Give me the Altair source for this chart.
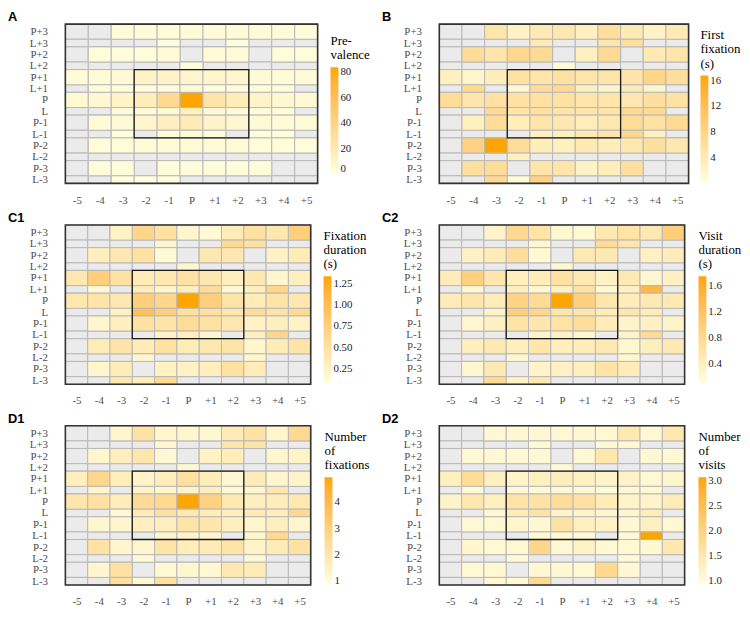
import altair as alt
import pandas as pd

cols = ["-5", "-4", "-3", "-2", "-1", "P", "+1", "+2", "+3", "+4", "+5"]
rows = ["P+3", "L+3", "P+2", "L+2", "P+1", "L+1", "P", "L",
        "P-1", "L-1", "P-2", "L-2", "P-3", "L-3"]
N = None

# A: prevalence
prevalence = [
    [N, N, 4, 4, 4, 4, 4, 4, 4, 4, 3],
    [N, N, N, N, 2, N, N, 2, N, N, N],
    [N, 3, 3, 3, 4, N, 4, 4, N, 3, 3],
    [N, N, N, N, N, 2, N, N, N, N, N],
    [4, 4, 5, 12, 11, 9, 9, 8, 5, 4, 4],
    [N, 3, 3, 3, 3, 4, 3, 3, 3, 3, N],
    [6, 7, 11, 17, 35, 84, 25, 18, 10, 7, 6],
    [N, N, 3, 4, 6, 14, 5, 4, 3, 3, N],
    [N, 4, 5, 8, 15, 19, 10, 7, 5, 4, 4],
    [N, N, 2, N, 3, 4, 3, N, 2, 2, N],
    [N, 3, 3, 4, 4, 4, 4, 4, 3, 3, 3],
    [N, N, N, N, N, N, N, N, N, N, N],
    [N, 3, 3, N, 3, 3, 3, 3, 3, N, N],
    [N, N, 2, 2, 2, N, N, N, N, N, N],
]

# B: first fixation (s)
first_fixation = [
    [N, N, 5, 2.5, 4, 4.5, 3, 6, 4, 2.5, 4],
    [N, N, N, N, 4, N, N, 5, 6, N, N],
    [N, 6.5, 5, 7.5, 7, N, 3, 7, N, 4, 5],
    [N, N, N, N, N, 1, N, N, N, N, N],
    [3, 2, 3.5, 5.5, 5, 5.5, 5, 5, 5, 8, 6],
    [N, 7, N, 1.5, 6.5, 7, 3, 2, 4, 2, N],
    [6.5, 5, 5.5, 5.5, 5.5, 5.5, 5, 5, 4.5, 6, 5.5],
    [N, N, 7, 5, 5.5, 5, 5, 5, 7, 7, N],
    [N, 3, 6.5, 3.5, 5, 4.5, 3.5, 4.5, 6.5, 5.5, 7],
    [N, N, N, N, 3, 3, 4, 5, 7.5, 3, N],
    [N, 8.5, 16.8, 6.5, 3.5, 3, 4, 3.5, 4.5, 6, 4.5],
    [N, N, N, 3, N, N, N, N, N, N, N],
    [N, 6, 6.5, N, 5, 5, 2.5, 3.5, 6, N, N],
    [N, N, 7, 1, 8.5, N, N, N, N, N, N],
]

# C1: fixation duration (s)
fixation_duration = [
    [N, N, 0.25, 0.65, 0.5, 0.2, 0.15, 0.35, 0.5, 0.4, 0.75],
    [N, N, N, N, 0.2, N, N, 0.6, 0.5, N, N],
    [N, 0.3, 0.4, 0.5, 0.15, N, 0.4, 0.4, N, 0.25, 0.35],
    [N, N, N, N, N, 0.2, N, N, N, N, N],
    [0.4, 0.75, 0.5, 0.35, 0.4, 0.5, 0.4, 0.3, 0.4, 0.2, 0.3],
    [N, 0.15, N, 0.35, 0.2, 0.3, 0.55, 0.15, 0.3, 0.65, N],
    [0.4, 0.45, 0.4, 0.75, 0.65, 1.34, 0.75, 0.45, 0.35, 0.45, 0.4],
    [N, N, 0.25, 0.95, 0.75, 0.5, 0.5, 0.4, 0.55, 0.45, 0.6],
    [N, 0.2, 0.3, 0.5, 0.45, 0.55, 0.5, 0.4, 0.25, 0.3, 0.25],
    [N, N, N, N, 0.25, 0.3, 0.2, N, 0.3, 0.65, N],
    [N, 0.35, 0.45, 0.35, 0.5, 0.35, 0.4, 0.45, 0.2, 0.35, 0.45],
    [N, N, N, 0.2, N, N, N, N, 0.2, N, N],
    [N, 0.2, 0.35, N, 0.25, 0.25, 0.3, 0.5, 0.35, N, N],
    [N, N, 0.4, 0.35, 0.6, N, N, N, N, N, N],
]

# C2: visit duration (s)
visit_duration = [
    [N, N, 0.3, 0.8, 0.6, 0.25, 0.2, 0.5, 0.6, 0.5, 1.0],
    [N, N, N, N, 0.25, N, N, 0.75, 0.55, N, N],
    [N, 0.35, 0.45, 0.7, 0.2, N, 0.5, 0.5, N, 0.35, 0.45],
    [N, N, N, N, N, 0.25, N, N, N, N, N],
    [0.45, 0.95, 0.55, 0.4, 0.45, 0.65, 0.5, 0.35, 0.5, 0.25, 0.35],
    [N, 0.2, N, 0.4, 0.25, 0.35, 0.65, 0.2, 0.35, 1.4, N],
    [0.45, 0.55, 0.45, 0.9, 0.75, 1.75, 0.95, 0.55, 0.45, 0.5, 0.5],
    [N, N, 0.3, 1.0, 0.85, 0.55, 0.55, 0.45, 0.55, 0.45, N],
    [N, 0.25, 0.35, 0.6, 0.55, 0.6, 0.7, 0.45, 0.3, 0.35, 0.3],
    [N, N, N, N, 0.3, 0.35, 0.25, N, 0.3, 0.75, N],
    [N, 0.4, 0.5, 0.4, 0.55, 0.4, 0.45, 0.5, 0.25, 0.4, 0.5],
    [N, N, N, 0.25, N, N, N, N, 0.25, N, N],
    [N, 0.25, 0.5, N, 0.3, 0.35, 0.4, 0.6, 0.45, N, N],
    [N, N, 0.75, 0.35, 0.5, N, N, N, N, N, N],
]

# D1: number of fixations
num_fixations = [
    [N, N, 1.3, 2.2, 1.3, 1.3, 1.2, 1.8, 2.2, 1.3, 2.6],
    [N, N, N, N, 1.2, N, N, 2.0, 2.1, N, N],
    [N, 1.3, 1.6, 2.0, 1.2, N, 1.5, 1.7, N, 1.3, 1.4],
    [N, N, N, N, N, 1.2, N, N, N, N, N],
    [1.6, 2.7, 1.7, 1.4, 1.7, 2.3, 1.7, 1.2, 1.8, 1.3, 1.4],
    [N, 1.3, N, 1.5, 1.3, 1.5, 1.6, 1.2, 1.3, 2.0, N],
    [2.0, 2.2, 1.7, 2.5, 2.6, 4.95, 2.9, 1.9, 1.6, 1.7, 1.9],
    [N, N, 1.2, 1.8, 2.2, 1.9, 1.7, 1.6, 1.8, 1.6, 2.6],
    [N, 1.3, 1.3, 1.6, 1.6, 2.1, 2.0, 1.6, 1.3, 1.6, 1.3],
    [N, N, N, N, 1.3, 1.4, 1.3, N, 1.3, 2.6, N],
    [N, 2.2, 1.3, 1.3, 2.1, 1.7, 1.8, 2.1, 1.4, 1.8, 2.2],
    [N, N, N, 1.2, N, N, N, N, 1.2, N, N],
    [N, 1.3, 2.2, N, 1.2, 1.3, 1.2, 1.9, 1.8, N, N],
    [N, N, 2.3, 1.2, 2.3, N, N, N, N, N, N],
]

# D2: number of visits
num_visits = [
    [N, N, 1.1, 1.1, 1.1, 1.1, 1.1, 1.1, 1.45, 1.1, 1.5],
    [N, N, N, N, 1.05, N, N, 1.05, 1.1, N, N],
    [N, 1.1, 1.1, 1.1, 1.1, N, 1.1, 1.5, N, 1.1, 1.1],
    [N, N, N, N, N, 1.05, N, N, N, N, N],
    [1.3, 1.75, 1.3, 1.2, 1.3, 1.35, 1.3, 1.2, 1.25, 1.1, 1.15],
    [N, 1.05, N, 1.1, 1.05, 1.1, 1.1, 1.05, 1.1, 1.1, N],
    [1.2, 1.5, 1.3, 1.6, 1.6, 1.75, 1.65, 1.4, 1.2, 1.2, 1.4],
    [N, N, 1.1, 1.4, 1.6, 1.2, 1.2, 1.15, 1.15, 1.4, N],
    [N, 1.1, 1.1, 1.15, 1.1, 1.6, 1.3, 1.25, 1.1, 1.3, 1.1],
    [N, N, N, N, 1.05, 1.1, 1.05, N, 1.05, 3.08, N],
    [N, 1.15, 1.1, 1.1, 1.9, 1.1, 1.25, 1.1, 1.1, 1.1, 1.5],
    [N, N, N, 1.05, N, N, N, N, 1.05, N, N],
    [N, 1.1, 1.1, N, 1.1, 1.1, 1.1, 1.85, 1.1, N, N],
    [N, N, 1.1, 1.1, 1.85, N, N, N, N, N, N],
]

letters = ["A", "B", "C1", "C2", "D1", "D2"]
legend_titles = [["Pre-", "valence"], ["First", "fixation", "(s)"],
                 ["Fixation", "duration", "(s)"], ["Visit", "duration", "(s)"],
                 ["Number", "of", "fixations"], ["Number", "of", "visits"]]
color_domains = [[0, 84], [0.2, 16.8], [0.08, 1.34], [0.1, 1.75], [0.9, 4.95], [0.94, 3.08]]
legend_ticks = [[0, 20, 40, 60, 80], [4, 8, 12, 16], [0.25, 0.5, 0.75, 1.0, 1.25],
                [0.4, 0.8, 1.2, 1.6], [1, 2, 3, 4], [1.0, 1.5, 2.0, 2.5, 3.0]]
legend_formats = ["d", "d", ".2f", ".1f", "d", ".1f"]
box_cols = ["-2", "+2"]
box_rows = ["P+1", "L-1"]

# row heights: P rows are twice as tall as L rows
row_units = {r: (2 if r.startswith("P") else 1) for r in rows}
row_start = {}
acc = 0
for r in rows:
    row_start[r] = acc
    acc += row_units[r]
total_units = acc
row_centers = [row_start[r] + row_units[r] / 2 for r in rows]
col_centers = [i + 0.5 for i in range(len(cols))]

ylabel_expr = ""
for c, r in zip(row_centers, rows):
    ylabel_expr += f"datum.value == {c} ? '{r}' : "
ylabel_expr += "''"
xlabel_expr = "[" + ",".join(f"'{c}'" for c in cols) + "][round(datum.value - 0.5)]"

CELL_STROKE = "#B8B8B8"
SERIF = "Liberation Serif"


def panel_df(values):
    recs = []
    for ri, r in enumerate(rows):
        for ci, c in enumerate(cols):
            recs.append(dict(col=c, row=r, x0=ci, x1=ci + 1,
                             y0=row_start[r], y1=row_start[r] + row_units[r],
                             v=values[ri][ci]))
    return pd.DataFrame(recs)


def make_panel(values, i, width, height, lx, ly):
    df = panel_df(values)
    xs = alt.X("x0:Q", scale=alt.Scale(domain=[0, len(cols)], nice=False, zero=False),
               axis=alt.Axis(values=col_centers, labelExpr=xlabel_expr, title=None))
    ys = alt.Y("y0:Q", scale=alt.Scale(domain=[0, total_units], nice=False, zero=False, reverse=True),
               axis=alt.Axis(values=row_centers, labelExpr=ylabel_expr, title=None))
    base = alt.Chart(df)
    gray = base.mark_rect(fill="#EBEBEB", stroke=CELL_STROKE, strokeWidth=1).encode(
        x=xs, x2="x1:Q", y=ys, y2="y1:Q")
    colored = base.transform_filter("isValid(datum.v)").mark_rect(
        stroke=CELL_STROKE, strokeWidth=1).encode(
        x=xs, x2="x1:Q", y=ys, y2="y1:Q",
        color=alt.Color("v:Q",
                        scale=alt.Scale(domain=color_domains[i], range=["#FFFFE0", "#FFA500"],
                                        interpolate="lab"),
                        legend=alt.Legend(title=legend_titles[i], values=legend_ticks[i],
                                          format=legend_formats[i], orient="none",
                                          legendX=lx, legendY=ly)))
    box_df = pd.DataFrame([{
        "x0": cols.index(box_cols[0]), "x1": cols.index(box_cols[1]) + 1,
        "y0": row_start[box_rows[0]], "y1": row_start[box_rows[1]] + row_units[box_rows[1]]}])
    box = alt.Chart(box_df).mark_rect(fillOpacity=0, stroke="#1A1A1A", strokeWidth=1.3).encode(
        x=xs, x2="x1:Q", y=ys, y2="y1:Q")
    frame_df = pd.DataFrame([{"x0": 0, "x1": len(cols), "y0": 0, "y1": total_units}])
    frame = alt.Chart(frame_df).mark_rect(fillOpacity=0, stroke="#333333", strokeWidth=1.6).encode(
        x=xs, x2="x1:Q", y=ys, y2="y1:Q")
    return alt.layer(gray, colored, box, frame).properties(
        width=width, height=height,
        title=alt.TitleParams(letters[i], anchor="start", frame="group", dx=-58,
                              font="Liberation Sans", fontSize=13, fontWeight="bold",
                              color="black", offset=-1))


H = 161
panels = [
    make_panel(prevalence, 0, 255, H, 268, 11),
    make_panel(first_fixation, 1, 252, H, 264, 5),
    make_panel(fixation_duration, 2, 248, H, 261, 5),
    make_panel(visit_duration, 3, 248, H, 262, 5),
    make_panel(num_fixations, 4, 248, H, 262, 5),
    make_panel(num_visits, 5, 248, H, 262, 5),
]

chart = alt.ConcatChart(
    concat=panels, columns=2, spacing={"row": 42, "column": 123}, bounds="flush", padding=0
).resolve_scale(
    color="independent", x="independent", y="independent"
).configure_view(stroke=None).configure_axis(
    domain=False, ticks=False, grid=False, labelFont=SERIF, labelFontSize=11,
    labelColor="#4D4D4D"
).configure_axisX(labelPadding=11, labelAngle=0).configure_axisY(labelPadding=18).configure_legend(
    titleFont=SERIF, titleFontSize=13, titleFontWeight="normal", titleColor="black",
    titleLineHeight=14.5, titlePadding=5, labelFont=SERIF, labelFontSize=11,
    labelColor="#222222", gradientLength=108, gradientThickness=8, gradientStrokeWidth=0,
    labelOffset=5
)

chart.save("out.html", embed_options={"renderer": "svg", "actions": False})
